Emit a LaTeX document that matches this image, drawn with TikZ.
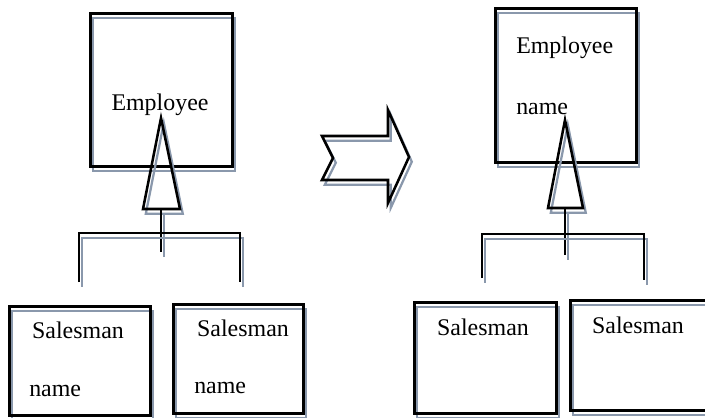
\documentclass[tikz,border=0pt]{standalone}
\usepackage{fontspec}
\setmainfont{Liberation Serif}
\usetikzlibrary{positioning}
\definecolor{shadowgrey}{RGB}{138,152,172}

\begin{document}
\begin{tikzpicture}[x=0.025cm,y=-0.025cm,line width=1.8pt,
  drop/.style={preaction={draw=shadowgrey,line width=1.6pt,
      transform canvas={xshift=0.07cm,yshift=-0.12cm}}},
  classbox/.style 2 args={draw,drop,rectangle,anchor=north west,inner sep=0pt,
      minimum width=#1*0.025cm,minimum height=#2*0.025cm},
  lbl/.style={font=\fontsize{17}{20}\selectfont,inner sep=0pt}]
  \useasboundingbox (0,0) rectangle (705,417);
  \clip (0,0) rectangle (705,417);

  % before
  \node[classbox={142}{153}] (emp1) at (89,12) {};
  \node[lbl] (emp1t) at (160,105) {Employee};
  \node[classbox={141}{109}] (sal1) at (8,305) {};
  \node[lbl] (sal1t) at (78,330) {Salesman};
  \node[lbl,anchor=west] (sal1n) at (28,391) {name};
  \node[classbox={130}{109}] (sal2) at (172,303) {};
  \node[lbl] (sal2t) at (243,328) {Salesman};
  \node[lbl,anchor=west] (sal2n) at (193,388) {name};

  \coordinate (apexL) at (161,118);
  \coordinate (baseL) at (161,209);
  \coordinate (forkL) at (161,252);
  \coordinate (legL1) at (79,282);
  \coordinate (legL2) at (240,282);
  \coordinate (barL) at (240,233);
  \draw[drop] (apexL) -- ++(-18,91) -- ++(37,0) -- cycle;
  \draw[drop] (baseL) -- (forkL);
  \draw[drop] (legL1) |- (barL) -- (legL2);

  % transformation
  \draw[drop] (322,136) -- (388,136) -- (388,110) -- (409,157) -- (388,203)
    -- (388,180) -- (322,180) -- (333,158) -- cycle;

  % after
  \node[classbox={141}{154}] (emp2) at (494,7) {};
  \node[lbl,anchor=west] (emp2t) at (515,48) {Employee};
  \node[lbl,anchor=west] (emp2n) at (515,109) {name};
  \node[classbox={142}{111}] (sal3) at (413,301) {};
  \node[lbl] (sal3t) at (483,327) {Salesman};
  \node[classbox={141}{110}] (sal4) at (569,299) {};
  \node[lbl] (sal4t) at (638,325) {Salesman};

  \coordinate (apexR) at (565,120);
  \coordinate (baseR) at (565,208);
  \coordinate (forkR) at (565,255);
  \coordinate (legR1) at (482,278);
  \coordinate (legR2) at (644,280);
  \coordinate (barR) at (644,234);
  \draw[drop] (apexR) -- ++(-17,88) -- ++(35,0) -- cycle;
  \draw[drop] (baseR) -- (forkR);
  \draw[drop] (legR1) |- (barR) -- (legR2);
\end{tikzpicture}
\end{document}
